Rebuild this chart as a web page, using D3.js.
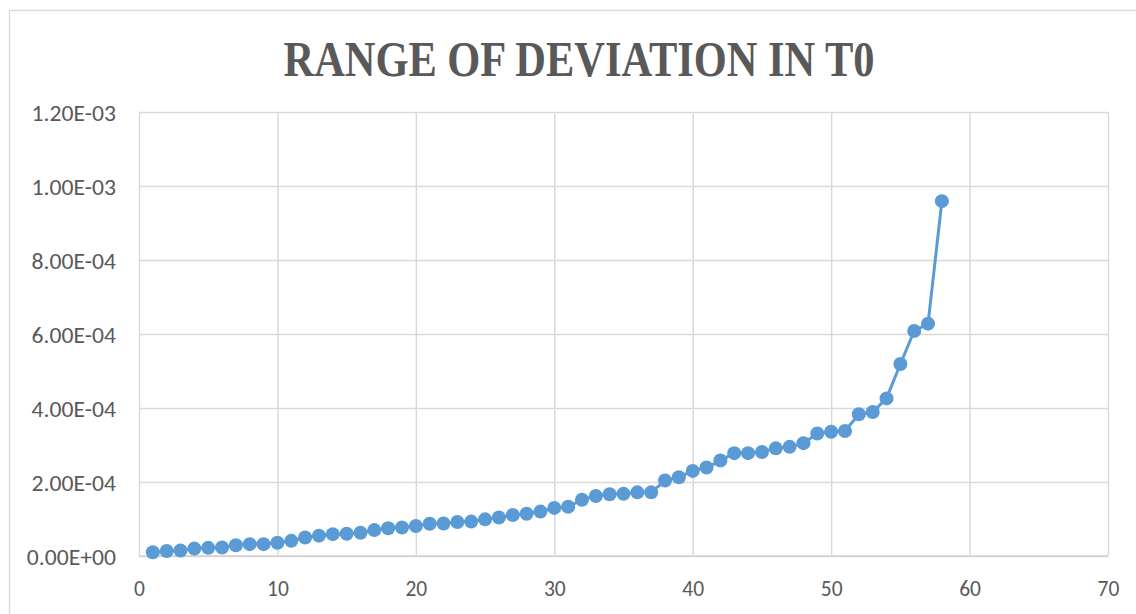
<!DOCTYPE html>
<html>
<head>
<meta charset="utf-8">
<script src="https://cdn.jsdelivr.net/npm/d3@7"></script>
<style>
  html, body { margin: 0; padding: 0; background: #fff; }
  svg { display: block; }
</style>
</head>
<body>
<svg id="chart" width="1136" height="614"></svg>
<script>
// Sample index (1..58) and the measured range of deviation in T0
const sampleIndex = d3.range(1, 59);
const deviationRange = [
  1.0e-5, 1.35e-5, 1.5e-5, 2.0e-5, 2.2e-5, 2.3e-5, 2.9e-5, 3.2e-5, 3.2e-5, 3.6e-5,
  4.1e-5, 5.0e-5, 5.5e-5, 5.9e-5, 6.0e-5, 6.3e-5, 7.0e-5, 7.5e-5, 7.7e-5, 8.1e-5,
  8.7e-5, 8.8e-5, 9.2e-5, 9.3e-5, 9.9e-5, 1.04e-4, 1.11e-4, 1.14e-4, 1.20e-4, 1.30e-4,
  1.33e-4, 1.52e-4, 1.62e-4, 1.67e-4, 1.68e-4, 1.72e-4, 1.72e-4, 2.04e-4, 2.13e-4, 2.30e-4,
  2.39e-4, 2.58e-4, 2.78e-4, 2.78e-4, 2.81e-4, 2.91e-4, 2.95e-4, 3.05e-4, 3.31e-4, 3.36e-4,
  3.38e-4, 3.83e-4, 3.89e-4, 4.26e-4, 5.19e-4, 6.08e-4, 6.28e-4, 9.59e-4
];
const xTicks = [0, 10, 20, 30, 40, 50, 60, 70];
const yTicks = [0, 2e-4, 4e-4, 6e-4, 8e-4, 1.0e-3, 1.2e-3];
const yTickLabels = ["0.00E+00", "2.00E-04", "4.00E-04", "6.00E-04", "8.00E-04", "1.00E-03", "1.20E-03"];
const chartTitle = "RANGE OF DEVIATION IN T0";

const points = sampleIndex.map((x, i) => ({ x, y: deviationRange[i] }));

const svg = d3.select("#chart");
const plot = { left: 139, right: 1108, top: 112, bottom: 556 };

const x = d3.scaleLinear().domain([0, 70]).range([plot.left, plot.right]);
const y = d3.scaleLinear().domain([0, 1.2e-3]).range([plot.bottom, plot.top]);

const labelFont = "Carlito, Calibri, 'Liberation Sans', Arial, sans-serif";

// outer chart frame
svg.append("rect")
  .attr("x", 9.5).attr("y", 10.5)
  .attr("width", 1140).attr("height", 620)
  .attr("fill", "none").attr("stroke", "#d9d9d9").attr("stroke-width", 1.5);

// title
svg.append("text")
  .attr("x", 579).attr("y", 76)
  .attr("text-anchor", "middle")
  .attr("font-family", "'Liberation Serif', 'Times New Roman', serif")
  .attr("font-weight", "bold")
  .attr("font-size", 50)
  .attr("fill", "#595959")
  .attr("textLength", 591)
  .attr("lengthAdjust", "spacingAndGlyphs")
  .text(chartTitle);

// horizontal gridlines + y labels
const yAxis = d3.axisLeft(y)
  .tickValues(yTicks)
  .tickSize(-(plot.right - plot.left))
  .tickPadding(23)
  .tickFormat((d, i) => yTickLabels[i]);

const gy = svg.append("g")
  .attr("transform", `translate(${plot.left},0)`)
  .call(yAxis);
gy.select(".domain").remove();
gy.selectAll(".tick line").attr("stroke", "#d9d9d9").attr("stroke-width", 1.5);
gy.selectAll(".tick text")
  .attr("fill", "#595959")
  .attr("font-family", labelFont)
  .attr("font-size", 21.5)
  .attr("dy", "0.38em")
  .each(function () {
    // widen the exponent labels slightly
    const w = this.getComputedTextLength();
    d3.select(this).attr("textLength", w * 1.1).attr("lengthAdjust", "spacingAndGlyphs");
  });

// vertical gridlines + x labels
const xAxis = d3.axisBottom(x)
  .tickValues(xTicks)
  .tickSize(-(plot.bottom - plot.top))
  .tickPadding(25)
  .tickFormat(d3.format("d"));

const gx = svg.append("g")
  .attr("transform", `translate(0,${plot.bottom})`)
  .call(xAxis);
gx.select(".domain").attr("stroke", "#d0d0d0").attr("stroke-width", 1.5)
  .attr("d", `M${plot.left},0H${plot.right}`);
gx.selectAll(".tick line").attr("stroke", "#d9d9d9").attr("stroke-width", 1.5);
gx.selectAll(".tick text")
  .attr("fill", "#595959")
  .attr("font-family", labelFont)
  .attr("font-size", 21.5);

// data line
const line = d3.line().x(d => x(d.x)).y(d => y(d.y));
svg.append("path")
  .datum(points)
  .attr("d", line)
  .attr("fill", "none")
  .attr("stroke", "#5b9bd5")
  .attr("stroke-width", 3)
  .attr("stroke-linejoin", "round");

// markers
svg.append("g")
  .selectAll("circle")
  .data(points)
  .join("circle")
  .attr("cx", d => x(d.x))
  .attr("cy", d => y(d.y))
  .attr("r", 7)
  .attr("fill", "#5b9bd5");
</script>
</body>
</html>
